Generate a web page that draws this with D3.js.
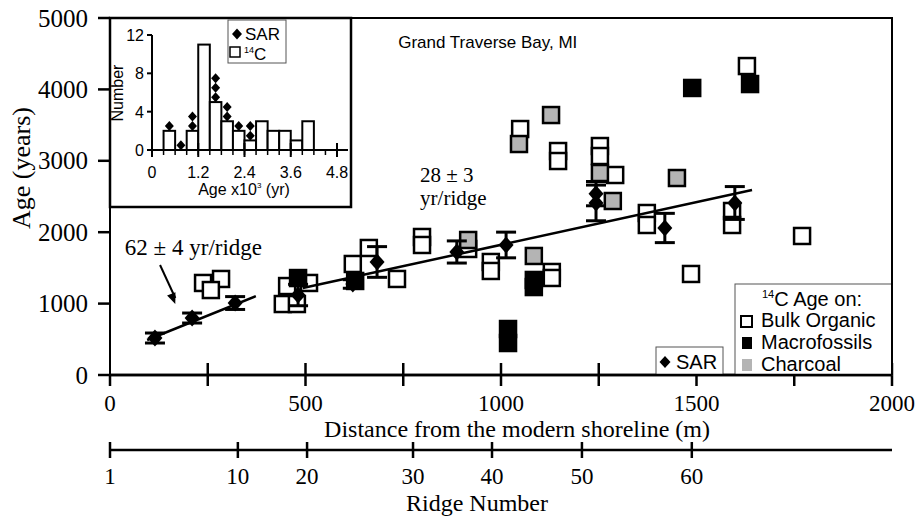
<!DOCTYPE html>
<html>
<head>
<meta charset="utf-8">
<script src="https://cdn.jsdelivr.net/npm/d3@7"></script>
<style>
  body { margin: 0; background: #fff; }
  svg { display: block; }
</style>
</head>
<body>
<div id="chart"></div>
<script>
// ---- data ----
// [distance (m), age (yr)]
const bulkOrganic = [
  [238, 1289], [284, 1345], [258, 1190], [442, 994], [478, 994], [453, 1246],
  [509, 1289], [621, 1555], [662, 1779], [734, 1345], [798, 1933], [798, 1821],
  [916, 1765], [974, 1583], [974, 1457], [1049, 3445], [1146, 3137], [1146, 2997],
  [1253, 3207], [1253, 3067], [1292, 2801], [1373, 2269], [1373, 2101],
  [1130, 1443], [1130, 1359], [1629, 4327], [1591, 2297], [1591, 2101],
  [1770, 1947], [1486, 1415]
];
const macrofossils = [
  [481, 1358], [627, 1317], [1084, 1331], [1084, 1232], [1018, 644], [1018, 448],
  [1489, 4020], [1637, 4075]
];
const charcoal = [
  [916, 1891], [1046, 3235], [1128, 3641], [1253, 2829], [1286, 2437],
  [1084, 1667], [1450, 2759]
];
// SAR ages: [distance, age, error]
const sarPoints = [
  [115, 518, 70], [210, 798, 70], [320, 1008, 90], [481, 1120, 150],
  [621, 1275, 60], [683, 1583, 215], [887, 1723, 155], [1013, 1821, 180],
  [1243, 2540, 170], [1243, 2410, 250], [1419, 2059, 205], [1598, 2409, 230]
];
// regression lines (end points)
const fit1 = [[95, 490], [373, 1105]];
const fit2 = [[493, 1218], [1642, 2590]];

const xTicks = [0, 250, 500, 750, 1000, 1250, 1500, 1750, 2000];
const xLabels = [0, 500, 1000, 1500, 2000];
const yTicks = [0, 1000, 2000, 3000, 4000, 5000];

const ridgeLabels = [1, 10, 20, 30, 40, 50, 60];
const ridgeDistance = [0, 327, 504, 775, 977, 1207, 1488];

// inset histogram, bins of 0.3 x10^3 yr
const binStart = [0.3, 0.6, 0.9, 1.2, 1.5, 1.8, 2.1, 2.4, 2.7, 3.0, 3.3, 3.6, 3.9];
const countC14 = [2, 0, 2, 11, 5, 3, 2, 1, 3, 2, 2, 1, 3];
const countSAR = [1, 1, 2, 0, 3, 2, 1, 2, 0, 0, 0, 0, 0];
const insetXTicks = [0, 1.2, 2.4, 3.6, 4.8];
const insetYTicks = [0, 4, 8, 12];

// ---- setup ----
const W = 919, H = 517;
const serif = "'Liberation Serif', 'Times New Roman', serif";
const sans = "'Liberation Sans', Arial, sans-serif";
const grey = "#b4b4b4";

const svg = d3.select("#chart").append("svg")
  .attr("width", W).attr("height", H);

const x = d3.scaleLinear().domain([0, 2000]).range([110, 892]);
const y = d3.scaleLinear().domain([0, 5000]).range([375, 18]);

// frame
svg.append("rect")
  .attr("x", x(0)).attr("y", y(5000))
  .attr("width", x(2000) - x(0)).attr("height", y(0) - y(5000))
  .attr("fill", "none").attr("stroke", "#000").attr("stroke-width", 2);

// y axis
svg.selectAll(".ytick").data(yTicks).enter().append("line")
  .attr("x1", x(0) - 12).attr("x2", x(0))
  .attr("y1", d => y(d)).attr("y2", d => y(d))
  .attr("stroke", "#000").attr("stroke-width", 2.5);
svg.selectAll(".ylab").data(yTicks).enter().append("text")
  .attr("x", 88).attr("y", d => y(d) + 8.5)
  .attr("text-anchor", "end")
  .style("font-family", serif).style("font-size", "25px")
  .text(d => d);
svg.append("text")
  .attr("transform", "translate(21," + 168 + ") rotate(-90)")
  .attr("text-anchor", "middle").attr("dy", "0.35em")
  .style("font-family", serif).style("font-size", "26px")
  .text("Age (years)");

// x axis
svg.append("line")
  .attr("x1", x(0)).attr("x2", x(2000)).attr("y1", y(0)).attr("y2", y(0))
  .attr("stroke", "#000").attr("stroke-width", 2.5);
svg.selectAll(".xtick").data(xTicks).enter().append("line")
  .attr("x1", d => x(d)).attr("x2", d => x(d))
  .attr("y1", d => d === 0 ? y(0) : y(0) - 12).attr("y2", y(0) + 11)
  .attr("stroke", "#000").attr("stroke-width", 2.5);
svg.selectAll(".xlab").data(xLabels).enter().append("text")
  .attr("x", d => x(d)).attr("y", 411)
  .attr("text-anchor", "middle")
  .style("font-family", serif).style("font-size", "23px")
  .text(d => d);
svg.append("text")
  .attr("x", 517).attr("y", 437)
  .attr("text-anchor", "middle")
  .style("font-family", serif).style("font-size", "24px")
  .text("Distance from the modern shoreline (m)");

// ridge number axis
svg.append("line")
  .attr("x1", x(0)).attr("x2", x(2000)).attr("y1", 450).attr("y2", 450)
  .attr("stroke", "#000").attr("stroke-width", 2.5);
svg.selectAll(".rtick").data(ridgeDistance).enter().append("line")
  .attr("x1", d => x(d)).attr("x2", d => x(d))
  .attr("y1", 442).attr("y2", 458)
  .attr("stroke", "#000").attr("stroke-width", 2.5);
svg.selectAll(".rlab").data(ridgeLabels).enter().append("text")
  .attr("x", (d, i) => x(ridgeDistance[i])).attr("y", 484)
  .attr("text-anchor", "middle")
  .style("font-family", serif).style("font-size", "23px")
  .text(d => d);
svg.append("text")
  .attr("x", 477).attr("y", 511)
  .attr("text-anchor", "middle")
  .style("font-family", serif).style("font-size", "24px")
  .text("Ridge Number");

// squares
const S = 16;
function squares(data, fill) {
  svg.append("g").selectAll("rect").data(data).enter().append("rect")
    .attr("x", d => x(d[0]) - S / 2).attr("y", d => y(d[1]) - S / 2)
    .attr("width", S).attr("height", S)
    .attr("fill", fill).attr("stroke", "#000").attr("stroke-width", 2.5);
}
squares(bulkOrganic, "#fff");
squares(macrofossils, "#000");
squares(charcoal, grey);

// fit lines
const line = d3.line().x(d => x(d[0])).y(d => y(d[1]));
[fit1, fit2].forEach(f => {
  svg.append("path").attr("d", line(f))
    .attr("fill", "none").attr("stroke", "#000").attr("stroke-width", 2.5);
});

// SAR with error bars
function diamond(cx, cy, hw, hh) {
  return "M" + cx + "," + (cy - hh) + "L" + (cx + hw) + "," + cy +
    "L" + cx + "," + (cy + hh) + "L" + (cx - hw) + "," + cy + "Z";
}
const sarG = svg.append("g");
sarPoints.forEach(p => {
  const cx = x(p[0]), top = y(p[1] + p[2]), bot = y(p[1] - p[2]);
  sarG.append("line").attr("x1", cx).attr("x2", cx).attr("y1", top).attr("y2", bot)
    .attr("stroke", "#000").attr("stroke-width", 3);
  [top, bot].forEach(v => {
    sarG.append("line").attr("x1", cx - 10).attr("x2", cx + 10).attr("y1", v).attr("y2", v)
      .attr("stroke", "#000").attr("stroke-width", 3);
  });
  sarG.append("path").attr("d", diamond(cx, y(p[1]), 7.5, 8.5)).attr("fill", "#000");
});

// annotations
svg.append("text")
  .attr("x", x(38)).attr("y", y(1680))
  .style("font-family", serif).style("font-size", "23px")
  .text("62 \u00b1 4 yr/ridge");
const ax1 = x(128), ay1 = y(1540), ax2 = x(167), ay2 = y(994);
svg.append("line").attr("x1", ax1).attr("y1", ay1).attr("x2", ax2).attr("y2", ay2 - 6)
  .attr("stroke", "#000").attr("stroke-width", 2);
const ang = Math.atan2(ay2 - ay1, ax2 - ax1);
const hl = 11, hw = 4.5;
svg.append("path")
  .attr("d", "M" + ax2 + "," + ay2 +
    "L" + (ax2 - hl * Math.cos(ang) + hw * Math.sin(ang)) + "," + (ay2 - hl * Math.sin(ang) - hw * Math.cos(ang)) +
    "L" + (ax2 - hl * Math.cos(ang) - hw * Math.sin(ang)) + "," + (ay2 - hl * Math.sin(ang) + hw * Math.cos(ang)) + "Z")
  .attr("fill", "#000");

svg.append("text").attr("x", x(793)).attr("y", y(2700))
  .style("font-family", serif).style("font-size", "21px").text("28 \u00b1 3");
svg.append("text").attr("x", x(793)).attr("y", y(2380))
  .style("font-family", serif).style("font-size", "21px").text("yr/ridge");

svg.append("text").attr("x", x(737)).attr("y", y(4580))
  .style("font-family", sans).style("font-size", "17px")
  .text("Grand Traverse Bay, MI");

// SAR legend
svg.append("rect").attr("x", 656).attr("y", 347).attr("width", 67).attr("height", 28)
  .attr("fill", "#fff").attr("stroke", "#555").attr("stroke-width", 1);
svg.append("path").attr("d", diamond(665, 362, 5.5, 6)).attr("fill", "#000");
svg.append("text").attr("x", 676).attr("y", 369)
  .style("font-family", sans).style("font-size", "20px").text("SAR");

// 14C legend
const lg = svg.append("g");
lg.append("rect").attr("x", 735).attr("y", 284).attr("width", 157).attr("height", 91)
  .attr("fill", "#fff").attr("stroke", "#555").attr("stroke-width", 1);
const lgTitle = lg.append("text").attr("x", 762).attr("y", 306)
  .style("font-family", sans).style("font-size", "20px");
lgTitle.append("tspan").style("font-size", "11px").attr("dy", "-8").text("14");
lgTitle.append("tspan").attr("dy", "8").text("C Age on:");
const lgItems = ["Bulk Organic", "Macrofossils", "Charcoal"];
const lgFill = ["#fff", "#000", grey];
lgItems.forEach((t, i) => {
  const by = 327 + i * 22;
  if (i === 0) {
    lg.append("rect").attr("x", 741).attr("y", by - 11).attr("width", 11).attr("height", 11)
      .attr("fill", "#fff").attr("stroke", "#000").attr("stroke-width", 2);
  } else {
    lg.append("rect").attr("x", 742).attr("y", by - 12).attr("width", 10).attr("height", 12)
      .attr("fill", lgFill[i]);
  }
  lg.append("text").attr("x", 761).attr("y", by)
    .style("font-family", sans).style("font-size", "20px").text(t);
});

// redraw axis line on top of legend boxes
svg.append("line")
  .attr("x1", x(0)).attr("x2", x(2000)).attr("y1", y(0)).attr("y2", y(0))
  .attr("stroke", "#000").attr("stroke-width", 2.5);
svg.append("line")
  .attr("x1", x(2000)).attr("x2", x(2000)).attr("y1", y(5000)).attr("y2", y(0))
  .attr("stroke", "#000").attr("stroke-width", 2);

// ---- inset histogram ----
const ig = svg.append("g");
ig.append("rect").attr("x", 110).attr("y", 18).attr("width", 241).attr("height", 189)
  .attr("fill", "#fff").attr("stroke", "#000").attr("stroke-width", 2.5);

const ix = d3.scaleLinear().domain([0, 4.8]).range([152, 337]);
const iy = d3.scaleLinear().domain([0, 12]).range([150, 35]);

// SAR stacked diamonds (above the 14C bars)
binStart.forEach((b, i) => {
  for (let k = 0; k < countSAR[i]; k++) {
    ig.append("path")
      .attr("d", diamond(ix(b + 0.15), iy(countC14[i] + k + 0.5), 4.5, 5))
      .attr("fill", "#000");
  }
});
ig.selectAll(".bar").data(binStart).enter().append("rect")
  .filter((d, i) => countC14[i] > 0)
  .attr("x", d => ix(d)).attr("width", d => ix(d + 0.3) - ix(d))
  .attr("y", d => iy(countC14[binStart.indexOf(d)]))
  .attr("height", d => iy(0) - iy(countC14[binStart.indexOf(d)]))
  .attr("fill", "#fff").attr("stroke", "#000").attr("stroke-width", 2);

// inset axes
ig.append("line").attr("x1", ix(0)).attr("x2", 348).attr("y1", iy(0)).attr("y2", iy(0))
  .attr("stroke", "#000").attr("stroke-width", 2);
ig.append("line").attr("x1", ix(0)).attr("x2", ix(0)).attr("y1", iy(12)).attr("y2", iy(0))
  .attr("stroke", "#000").attr("stroke-width", 2);
const minor = d3.range(0, 4.81, 0.3);
ig.selectAll(".imt").data(minor).enter().append("line")
  .attr("x1", d => ix(d)).attr("x2", d => ix(d))
  .attr("y1", iy(0)).attr("y2", iy(0) + 5)
  .attr("stroke", "#000").attr("stroke-width", 1.5);
ig.selectAll(".iMt").data(insetXTicks).enter().append("line")
  .attr("x1", d => ix(d)).attr("x2", d => ix(d))
  .attr("y1", iy(0) - 7).attr("y2", iy(0) + 7)
  .attr("stroke", "#000").attr("stroke-width", 2);
ig.selectAll(".iyt").data(insetYTicks).enter().append("line")
  .attr("x1", ix(0) - 5).attr("x2", ix(0))
  .attr("y1", d => iy(d)).attr("y2", d => iy(d))
  .attr("stroke", "#000").attr("stroke-width", 2);
ig.selectAll(".ixl").data(insetXTicks).enter().append("text")
  .attr("x", d => ix(d)).attr("y", 178).attr("text-anchor", "middle")
  .style("font-family", sans).style("font-size", "16px")
  .text(d => d === 0 ? "0" : d.toFixed(1));
ig.selectAll(".iyl").data(insetYTicks).enter().append("text")
  .attr("x", 144).attr("y", d => iy(d) + 6).attr("text-anchor", "end")
  .style("font-family", sans).style("font-size", "16px")
  .text(d => d);
ig.append("text")
  .attr("transform", "translate(117,93) rotate(-90)")
  .attr("text-anchor", "middle").attr("dy", "0.35em")
  .style("font-family", sans).style("font-size", "16px").text("Number");
const ixt = ig.append("text").attr("x", 244).attr("y", 195).attr("text-anchor", "middle")
  .style("font-family", sans).style("font-size", "16px");
ixt.append("tspan").text("Age x10");
ixt.append("tspan").attr("dy", "-7").style("font-size", "8px").text("3");
ixt.append("tspan").attr("dy", "7").text(" (yr)");

// inset legend
ig.append("rect").attr("x", 228).attr("y", 20).attr("width", 58).attr("height", 43)
  .attr("fill", "#fff").attr("stroke", "#555").attr("stroke-width", 1);
ig.append("path").attr("d", diamond(237, 34, 5, 5.5)).attr("fill", "#000");
ig.append("text").attr("x", 245).attr("y", 40)
  .style("font-family", sans).style("font-size", "17px").text("SAR");
ig.append("rect").attr("x", 230).attr("y", 47).attr("width", 10).attr("height", 10)
  .attr("fill", "#fff").attr("stroke", "#000").attr("stroke-width", 1.5);
const ilt = ig.append("text").attr("x", 244).attr("y", 60)
  .style("font-family", sans).style("font-size", "17px");
ilt.append("tspan").attr("dy", "-7").style("font-size", "9px").text("14");
ilt.append("tspan").attr("dy", "7").text("C");
</script>
</body>
</html>
